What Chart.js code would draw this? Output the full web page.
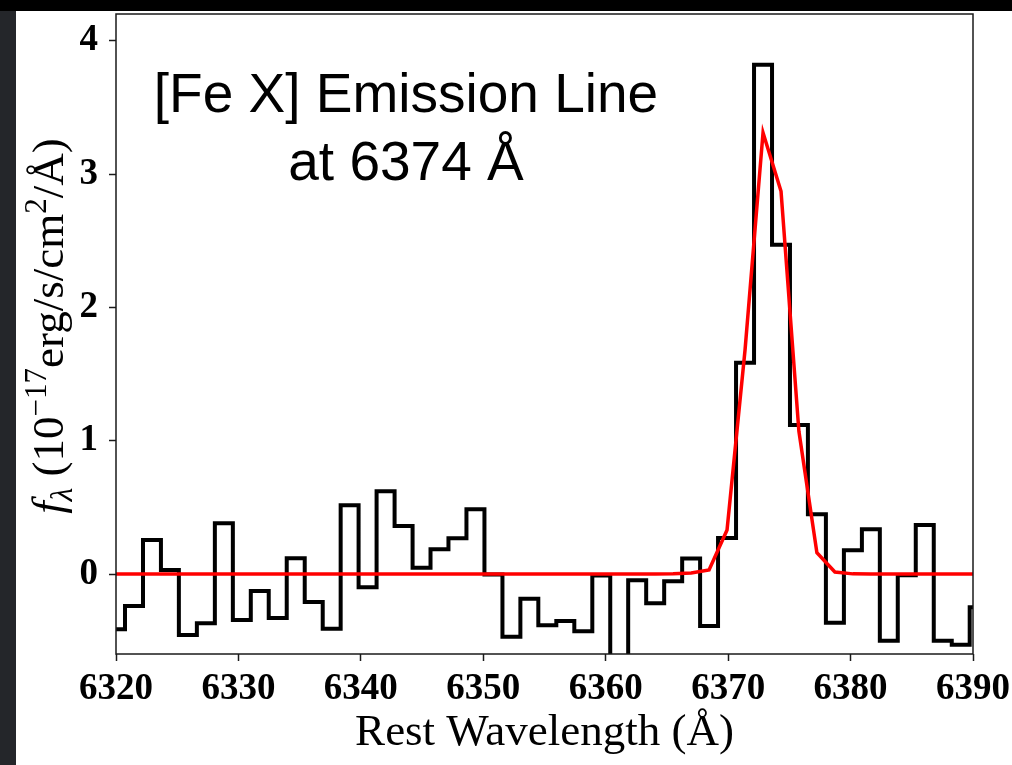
<!DOCTYPE html>
<html>
<head>
<meta charset="utf-8">
<title>[Fe X] Emission Line</title>
<script src="https://cdn.jsdelivr.net/npm/chart.js@4.4.1/dist/chart.umd.min.js"></script>
<style>
    html, body { margin: 0; padding: 0; background: #fff; }
    canvas { display: block; }
</style>
</head>
<body>
<canvas id="spectrumChart" width="1012" height="765"></canvas>
<script>
// rest wavelength of each spectral pixel (bin centres, Å)
const wavelength = [
    6320.00, 6321.47, 6322.94, 6324.40, 6325.87, 6327.34, 6328.81, 6330.28, 6331.74, 6333.21,
    6334.68, 6336.15, 6337.62, 6339.08, 6340.55, 6342.02, 6343.49, 6344.96, 6346.42, 6347.89,
    6349.36, 6350.83, 6352.30, 6353.76, 6355.23, 6356.70, 6358.17, 6359.64, 6361.10, 6362.57,
    6364.04, 6365.51, 6366.98, 6368.44, 6369.91, 6371.38, 6372.85, 6374.32, 6375.78, 6377.25,
    6378.72, 6380.19, 6381.66, 6383.12, 6384.59, 6386.06, 6387.53, 6389.00, 6390.46
];

// observed flux, 1e-17 erg/s/cm2/Å
const flux = [
    -0.415, -0.24, 0.255, 0.03, -0.458, -0.37, 0.38, -0.345, -0.128, -0.33,
    0.118, -0.21, -0.41, 0.515, -0.10, 0.62, 0.36, 0.047, 0.185, 0.268,
    0.485, -0.003, -0.47, -0.185, -0.385, -0.353, -0.43, -0.012, -1.0, -0.047,
    -0.22, -0.055, 0.117, -0.39, 0.27, 1.585, 3.82, 2.47, 1.118, 0.448,
    -0.365, 0.178, 0.335, -0.50, -0.01, 0.368, -0.50, -0.53, -0.25
];

// gaussian fit evaluated on the same pixels
const fit = [
    0, 0, 0, 0, 0, 0, 0, 0, 0, 0,
    0, 0, 0, 0, 0, 0, 0, 0, 0, 0,
    0, 0, 0, 0, 0, 0, 0, 0, 0, 0,
    0, 0.001, 0.008, 0.03, 0.33, 1.68, 3.31, 2.87, 1.07, 0.16,
    0.015, 0.001, 0, 0, 0, 0, 0, 0, 0
];

const xTicks = [6320, 6330, 6340, 6350, 6360, 6370, 6380, 6390];
const yTicks = [0, 1, 2, 3, 4];

const annotationLines = ['[Fe X] Emission Line', 'at 6374 Å'];

const serif = '"Liberation Serif", "Times New Roman", serif';
const tickFont = { family: serif, size: 37, weight: 'bold' };

// page decoration + frame + y title with sub/superscripts + annotation
const decorPlugin = {
    id: 'decor',
    beforeDraw(chart) {
        const ctx = chart.ctx;
        ctx.save();
        ctx.fillStyle = '#ffffff';
        ctx.fillRect(0, 0, chart.width, chart.height);
        ctx.fillStyle = '#24262a';
        ctx.fillRect(0, 0, 16, chart.height);
        ctx.fillStyle = '#000000';
        ctx.fillRect(0, 0, chart.width, 11);
        ctx.restore();
    },
    afterDraw(chart) {
        const ctx = chart.ctx;
        const area = chart.chartArea;
        ctx.save();
        ctx.strokeStyle = '#1a1a1a';
        ctx.lineWidth = 1.5;
        ctx.strokeRect(area.left, area.top, area.right - area.left, area.bottom - area.top);

        // y axis title
        const big = 45, small = 31;
        const parts = [
            { t: 'f', font: 'italic ' + big + 'px ' + serif, dy: 0 },
            { t: 'λ', font: 'italic ' + small + 'px ' + serif, dy: 9 },
            { t: ' (10', font: big + 'px ' + serif, dy: 0 },
            { t: '−17', font: small + 'px ' + serif, dy: -17 },
            { t: 'erg/s/cm', font: big + 'px ' + serif, dy: 0 },
            { t: '2', font: small + 'px ' + serif, dy: -17 },
            { t: '/Å)', font: big + 'px ' + serif, dy: 0 }
        ];
        let total = 0;
        parts.forEach(p => { ctx.font = p.font; p.w = ctx.measureText(p.t).width; total += p.w; });
        ctx.translate(63, 326);
        ctx.rotate(-Math.PI / 2);
        ctx.fillStyle = '#000000';
        ctx.textBaseline = 'alphabetic';
        ctx.textAlign = 'left';
        let x = -total / 2;
        parts.forEach(p => {
            ctx.font = p.font;
            ctx.fillText(p.t, x, p.dy);
            x += p.w;
        });
        ctx.restore();

        ctx.save();
        ctx.fillStyle = '#000000';
        ctx.font = '55px "Liberation Sans", Arial, sans-serif';
        ctx.textAlign = 'center';
        ctx.textBaseline = 'alphabetic';
        ctx.fillText(annotationLines[0], 406, 112);
        ctx.fillText(annotationLines[1], 406, 180);
        ctx.restore();
    }
};

const ctx = document.getElementById('spectrumChart').getContext('2d');
new Chart(ctx, {
    type: 'line',
    data: {
        datasets: [
            {
                label: 'Gaussian fit',
                data: wavelength.map((w, i) => ({ x: w, y: fit[i] })),
                borderColor: '#ff0000',
                borderWidth: 3.5,
                pointRadius: 0,
                tension: 0,
                clip: 0,
                order: 0
            },
            {
                label: 'Spectrum',
                data: wavelength.map((w, i) => ({ x: w, y: flux[i] })),
                borderColor: '#000000',
                borderWidth: 4,
                stepped: 'middle',
                pointRadius: 0,
                clip: 0,
                order: 1
            }
        ]
    },
    options: {
        responsive: false,
        animation: false,
        devicePixelRatio: 1,
        layout: { padding: { top: 14, right: 39, bottom: 0, left: 0 } },
        plugins: {
            legend: { display: false },
            tooltip: { enabled: false }
        },
        scales: {
            x: {
                type: 'linear',
                min: 6320,
                max: 6390,
                afterBuildTicks: scale => { scale.ticks = xTicks.map(v => ({ value: v })); },
                afterFit: scale => {
                    scale.height = 111;
                    scale.paddingLeft = 0;
                    scale.paddingRight = 0;
                },
                border: { display: false },
                grid: { drawOnChartArea: false, tickLength: 7, tickWidth: 1.5, tickColor: '#1a1a1a' },
                ticks: {
                    color: '#000000',
                    font: tickFont,
                    padding: 6,
                    maxRotation: 0,
                    autoSkip: false,
                    callback: v => String(v)
                },
                title: {
                    display: true,
                    text: 'Rest Wavelength (Å)',
                    color: '#000000',
                    font: { family: serif, size: 45 },
                    padding: { top: 0, bottom: 5 }
                }
            },
            y: {
                type: 'linear',
                min: -0.6,
                max: 4.2,
                afterBuildTicks: scale => { scale.ticks = yTicks.map(v => ({ value: v })); },
                afterFit: scale => {
                    scale.width = 116;
                    scale.paddingTop = 0;
                    scale.paddingBottom = 0;
                },
                border: { display: false },
                grid: { drawOnChartArea: false, tickLength: 7, tickWidth: 1.5, tickColor: '#1a1a1a' },
                ticks: {
                    color: '#000000',
                    font: tickFont,
                    padding: 11,
                    callback: v => String(v)
                }
            }
        }
    },
    plugins: [decorPlugin]
});
</script>
</body>
</html>
